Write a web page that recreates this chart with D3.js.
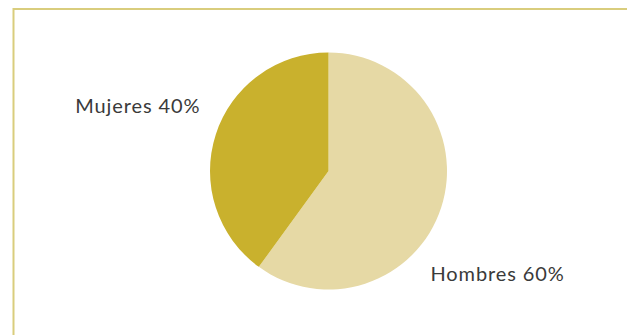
<!DOCTYPE html>
<html>
<head>
<meta charset="utf-8">
<script src="https://cdn.jsdelivr.net/npm/d3@7"></script>
<style>
  body { margin: 0; background: #fff; }
  text { font-family: Lato, "Open Sans", sans-serif; fill: #3a3a3a; }
</style>
</head>
<body>
<div id="chart"></div>
<script>
var width = 627,
    height = 335;

var labels = ["Hombres", "Mujeres"];
var values = [60, 40];
var colors = ["#e6d9a5", "#c9b12d"];

var svg = d3.select("#chart").append("svg")
    .attr("width", width)
    .attr("height", height);

// frame lines (top and left only)
svg.append("line")
    .attr("x1", 13).attr("y1", 9).attr("x2", width).attr("y2", 9)
    .style("stroke", "#d9cd7d").style("stroke-width", 2);
svg.append("line")
    .attr("x1", 13.5).attr("y1", 8).attr("x2", 13.5).attr("y2", height)
    .style("stroke", "#d9cd7d").style("stroke-width", 2);

var cx = 328.5, cy = 171, radius = 118.5;

var pie = d3.pie().sort(null).value(function(d) { return d; });
var arc = d3.arc().innerRadius(0).outerRadius(radius);

var g = svg.append("g")
    .attr("transform", "translate(" + cx + "," + cy + ")");

var arcs = pie(values);

g.selectAll("path")
    .data(arcs)
    .enter().append("path")
    .attr("d", arc)
    .style("fill", function(d, i) { return colors[i]; });

// labels placed outside the slices
var labelPos = [[102, 110], [-128, -58]];
g.selectAll("text.lbl")
    .data(arcs)
    .enter().append("text")
    .attr("class", "lbl")
    .attr("x", function(d, i) { return labelPos[i][0]; })
    .attr("y", function(d, i) { return labelPos[i][1]; })
    .attr("text-anchor", function(d, i) { return i == 0 ? "start" : "end"; })
    .style("font-size", "20px")
    .style("letter-spacing", "0.9px")
    .text(function(d, i) { return labels[i] + " " + values[i] + "%"; });
</script>
</body>
</html>
